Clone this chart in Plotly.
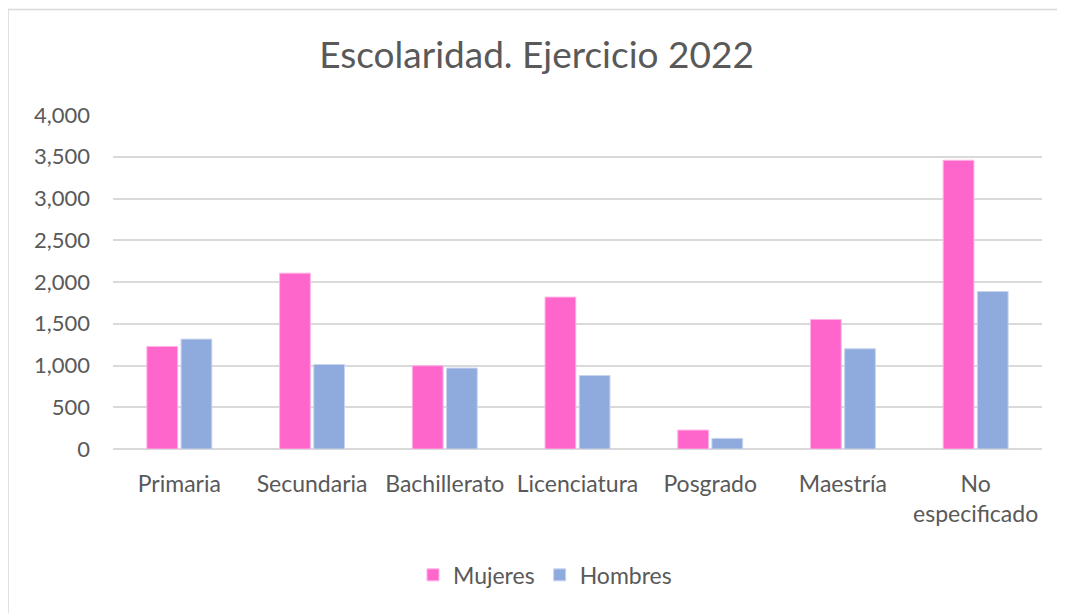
import plotly.graph_objects as go

categories = ["Primaria", "Secundaria", "Bachillerato", "Licenciatura", "Posgrado", "Maestría", "No<br>especificado"]
mujeres = [1228, 2106, 997, 1819, 227, 1551, 3458]
hombres = [1316, 1012, 969, 881, 127, 1200, 1886]
y_ticks = [0, 500, 1000, 1500, 2000, 2500, 3000, 3500, 4000]

FONT = "Lato"
TXT = "#595959"

fig = go.Figure()
fig.add_trace(go.Bar(name="Mujeres", x=categories, y=mujeres, marker=dict(color="#ff66cc", line=dict(color="#ffb3e6", width=1))))
fig.add_trace(go.Bar(name="Hombres", x=categories, y=hombres, marker=dict(color="#8faadc", line=dict(color="#c7d5ee", width=1))))

fig.update_layout(
    width=1057, height=605,
    paper_bgcolor="white", plot_bgcolor="white",
    margin=dict(l=105, r=23, t=107, b=164),
    barmode="group", bargap=0.485, bargroupgap=0.1,
    font=dict(family=FONT, color=TXT, size=22),
    title=dict(text="Escolaridad. Ejercicio 2022", x=0.5, xanchor="center", y=1 - 47 / 605, yanchor="middle",
               font=dict(family=FONT, size=37, color=TXT)),
    legend=dict(orientation="h", x=0.465, xanchor="center", y=-0.377, yanchor="middle",
                font=dict(size=23, color=TXT), itemwidth=30, traceorder="normal"),
    showlegend=True,
)
fig.update_yaxes(range=[0, 4000], tickvals=y_ticks, tickformat=",d", showgrid=True, gridcolor="#d9d9d9", gridwidth=1.5,
                 zeroline=True, zerolinecolor="#d9d9d9", zerolinewidth=1.5, showline=False, ticks="",
                 ticklabelstandoff=22, tickfont=dict(size=22, color=TXT))
fig.update_xaxes(showgrid=False, showline=False, ticks="", ticklabelstandoff=19, tickfont=dict(size=23, color=TXT),
                 tickangle=0)
fig.add_shape(type="rect", xref="paper", yref="paper", x0=-0.113, x1=1.017, y0=-0.52, y1=1.316,
              line=dict(color="#d9d9d9", width=1.5), fillcolor="rgba(0,0,0,0)", layer="below")

fig.write_html("out.html")
